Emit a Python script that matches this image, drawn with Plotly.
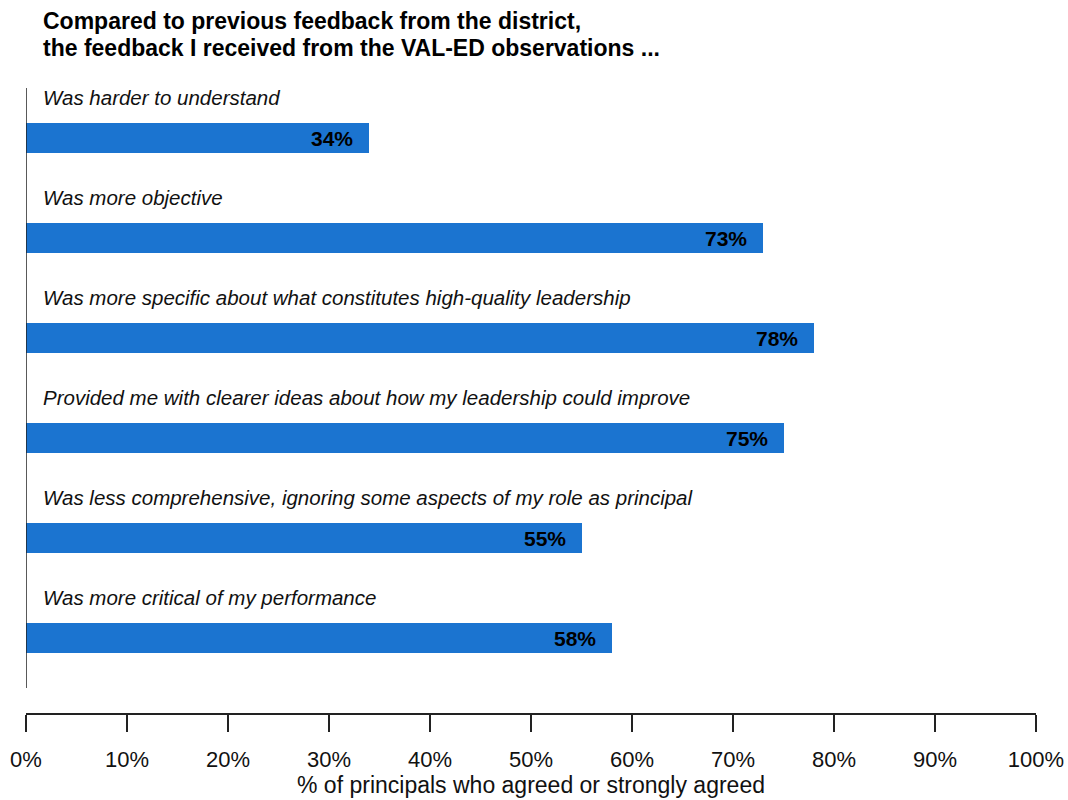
import plotly.graph_objects as go

# Survey items and share of principals who agreed or strongly agreed
items = [
    "Was harder to understand",
    "Was more objective",
    "Was more specific about what constitutes high-quality leadership",
    "Provided me with clearer ideas about how my leadership could improve",
    "Was less comprehensive, ignoring some aspects of my role as principal",
    "Was more critical of my performance",
]
values = [34, 73, 78, 75, 55, 58]
tick_vals = [0, 10, 20, 30, 40, 50, 60, 70, 80, 90, 100]
tick_text = [f"{v}%" for v in tick_vals]
heading = [
    "Compared to previous feedback from the district,",
    "the feedback I received from the VAL-ED observations ...",
]

positions = list(range(len(items)))
bar_color = "#1b74d0"
font_family = "Liberation Sans, Arial, sans-serif"

W, H = 1068, 800
M_L, M_R, M_T, M_B = 26, 32, 88, 87
PLOT_W = W - M_L - M_R
PLOT_H = H - M_T - M_B


def px_to_paper(px, py):
    return (px - M_L) / PLOT_W, 1 + (M_T - py) / PLOT_H


fig = go.Figure()
fig.add_trace(go.Bar(
    x=values,
    y=positions,
    orientation="h",
    width=0.3,
    marker=dict(color=bar_color, line=dict(width=0)),
    hoverinfo="skip",
))

annotations = []
# item captions above each bar
for pos, label in zip(positions, items):
    annotations.append(dict(
        x=0, y=pos - 0.405, xref="x", yref="y",
        text=f"<i>{label}</i>", showarrow=False,
        xanchor="left", yanchor="middle", xshift=15,
        font=dict(family=font_family, size=20.5, color="#111111"),
    ))
# value labels at the end of each bar
for pos, val in zip(positions, values):
    annotations.append(dict(
        x=val, y=pos, xref="x", yref="y",
        text=f"<b>{val}%</b>", showarrow=False,
        xanchor="right", yanchor="middle", xshift=-14,
        font=dict(family=font_family, size=21, color="#000000"),
    ))
# two-line heading
for line, ypx in zip(heading, [21, 48]):
    hx, hy = px_to_paper(41, ypx)
    annotations.append(dict(
        x=hx, y=hy, xref="paper", yref="paper",
        text=f"<b>{line}</b>", showarrow=False,
        xanchor="left", yanchor="middle", align="left",
        font=dict(family=font_family, size=23, color="#000000"),
    ))

fig.update_layout(
    width=W, height=H,
    margin=dict(l=M_L, r=M_R, t=M_T, b=M_B, autoexpand=False),
    paper_bgcolor="white", plot_bgcolor="white",
    showlegend=False,
    annotations=annotations,
    bargap=0,
    xaxis=dict(
        range=[0, 100],
        automargin=False,
        tickvals=tick_vals, ticktext=tick_text,
        showgrid=False, zeroline=False,
        showline=True, linecolor="#222222", linewidth=2,
        ticks="outside", ticklen=17, tickwidth=1.5, tickcolor="#222222",
        ticklabelstandoff=9,
        tickfont=dict(family=font_family, size=22, color="#111111"),
        title=dict(text="% of principals who agreed or strongly agreed",
                   font=dict(family=font_family, size=23, color="#111111"),
                   standoff=4),
        fixedrange=True,
    ),
    yaxis=dict(
        range=[5.75, -0.5],
        automargin=False,
        showticklabels=False, showgrid=False, zeroline=False,
        showline=False, ticks="",
        fixedrange=True,
    ),
    shapes=[dict(
        type="line", xref="x", yref="y",
        x0=0, x1=0, y0=-0.5, y1=5.5,
        line=dict(color="#222222", width=1.5),
    )],
)

fig.write_html("out.html")
